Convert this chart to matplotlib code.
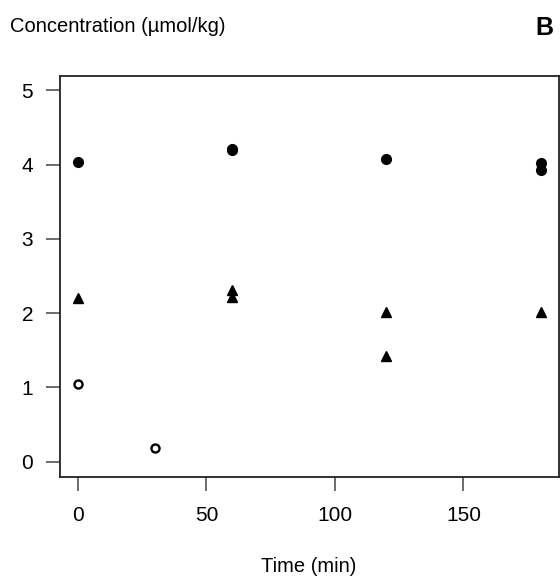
import matplotlib
matplotlib.use('Agg')
from matplotlib import pyplot as plt

plt.rcParams['font.family'] = ['Liberation Sans', 'DejaVu Sans']

# filled circles
circ_t = [0, 60, 60, 120, 180, 180]
circ_c = [4.04, 4.21, 4.20, 4.07, 4.02, 3.93]
# filled triangles
tri_t = [0, 60, 60, 120, 120, 180]
tri_c = [2.21, 2.31, 2.22, 2.01, 1.42, 2.01]
# open circles
open_t = [0, 30]
open_c = [1.04, 0.19]

W, H = 560, 580
fig = plt.figure(figsize=(W/100, H/100), dpi=100)
ax = fig.add_axes([59.5/W, 1-476.5/H, 499.5/W, 401/H])

ax.plot(circ_t, circ_c, 'o', color='black', markersize=7, linestyle='none')
ax.plot(tri_t, tri_c, '^', color='black', markersize=7.5, linestyle='none')
ax.plot(open_t, open_c, 'o', markerfacecolor='white', markeredgecolor='black',
        markeredgewidth=1.7, markersize=5.8, linestyle='none')

ax.set_xlim(-7.2, 187.2)
ax.set_ylim(-0.2, 5.2)
ax.set_xticks([0, 50, 100, 150])
ax.set_yticks([0, 1, 2, 3, 4, 5])
ax.tick_params(direction='out', length=10, width=1.1, labelsize=15, color='#444444')
ax.tick_params(axis='x', pad=11)
ax.tick_params(axis='y', pad=9)
for s in ax.spines.values():
    s.set_linewidth(1.3)
    s.set_color('#222222')

fig.text(309/W, 1-572/H, 'Time (min)', fontsize=14.5, va='baseline', ha='center')
fig.text(10/W, 1-32/H, 'Concentration (µmol/kg)', fontsize=14.5, va='baseline', ha='left')
fig.text(553/W, 1-35/H, 'B', fontsize=18, fontweight='bold', va='baseline', ha='right')

fig.savefig('out.png', dpi=100)
